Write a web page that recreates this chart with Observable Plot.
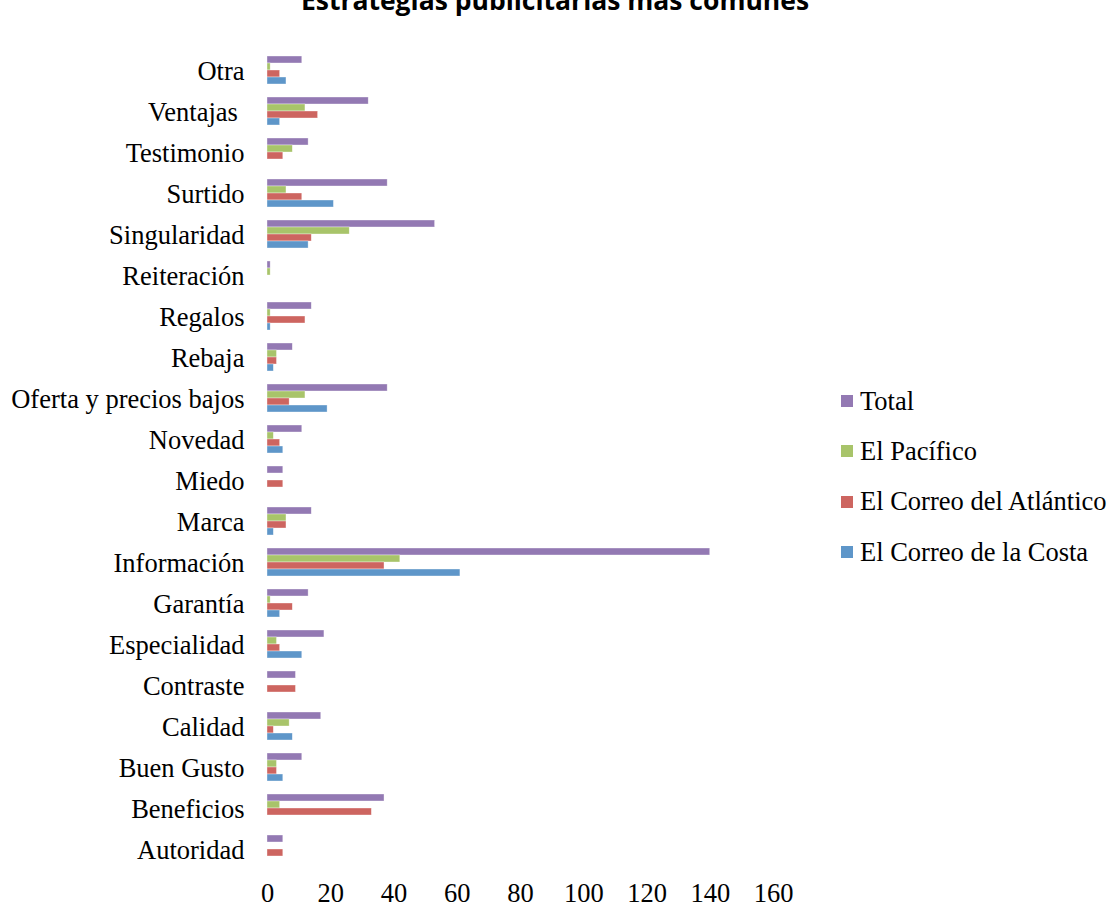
<!DOCTYPE html>
<html>
<head>
<meta charset="utf-8">
<script src="https://cdn.jsdelivr.net/npm/d3@7"></script>
<script src="https://cdn.jsdelivr.net/npm/@observablehq/plot@0.6"></script>
<style>
  html, body { margin: 0; padding: 0; background: #fff; overflow: hidden; }
  #wrap { position: relative; width: 1110px; height: 911px; }
  #title { position: absolute; left: 0; width: 1110px; top: -13px; text-align: center; line-height: 1;
    font-family: "Open Sans", sans-serif; font-weight: bold; font-size: 26.5px; color: #000; white-space: nowrap; }
  #chart { position: absolute; left: 0; top: 0; }
  #legend { position: absolute; left: 841px; top: 376px; font-family: "Liberation Serif", serif; font-size: 26.5px; color: #000; }
  .row { height: 50.3px; display: flex; align-items: center; white-space: nowrap; }
  .sw { width: 12px; height: 12px; margin-right: 7px; }
</style>
</head>
<body>
<div id="wrap">
  <div id="title">Estrategias publicitarias más comunes</div>
  <div id="chart"></div>
  <div id="legend"></div>
</div>
<script>
// Categories, bottom to top as in the source chart
const categories = ["Autoridad", "Beneficios", "Buen Gusto", "Calidad", "Contraste", "Especialidad",
  "Garantía", "Información", "Marca", "Miedo", "Novedad", "Oferta y precios bajos", "Rebaja",
  "Regalos", "Reiteración", "Singularidad", "Surtido", "Testimonio", "Ventajas\u00a0", "Otra"];
const series = ["Total", "El Pacífico", "El Correo del Atlántico", "El Correo de la Costa"];
const total     = [5, 37, 11, 17, 9, 18, 13, 140, 14, 5, 11, 38, 8, 14, 1, 53, 38, 13, 32, 11];
const pacifico  = [0, 4, 3, 7, 0, 3, 1, 42, 6, 0, 2, 12, 3, 1, 1, 26, 6, 8, 12, 1];
const atlantico = [5, 33, 3, 2, 9, 4, 8, 37, 6, 5, 4, 7, 3, 12, 0, 14, 11, 5, 16, 4];
const costa     = [0, 0, 5, 8, 0, 11, 4, 61, 2, 0, 5, 19, 2, 1, 0, 13, 21, 0, 4, 6];
const xTicks = [0, 20, 40, 60, 80, 100, 120, 140, 160];
const colors = ["#9379b3", "#a8c46a", "#cd6560", "#5e96c9"];

const valuesBySeries = [total, pacifico, atlantico, costa];
const data = [];
categories.forEach((c, i) => {
  series.forEach((s, j) => {
    data.push({category: c, series: s, value: valuesBySeries[j][i]});
  });
});

const chart = Plot.plot({
  width: 1110,
  height: 911,
  marginLeft: 267,
  marginRight: 337,
  marginTop: 48,
  marginBottom: 41,
  style: {fontFamily: "'Liberation Serif', serif", color: "#000", background: "transparent"},
  x: {domain: [0, 160], ticks: xTicks, axis: null},
  y: {domain: series, axis: null, padding: 0},
  fy: {domain: categories.slice().reverse(), padding: 0.32, axis: null},
  color: {domain: series, range: colors},
  marks: [
    Plot.barX(data, {fy: "category", y: "series", x: "value", fill: "series",
      stroke: "white", strokeWidth: 0.6, strokeOpacity: 0.6}),
    Plot.axisFy({anchor: "left", tickSize: 0, tickPadding: 23, fontSize: 26.5, label: null, fill: "#000", dy: 1}),
    Plot.axisX({anchor: "bottom", ticks: xTicks, tickSize: 0, tickPadding: 20, fontSize: 26.5, label: null, fill: "#000"})
  ]
});
document.getElementById("chart").appendChild(chart);

const legend = document.getElementById("legend");
series.forEach((s, j) => {
  const row = document.createElement("div");
  row.className = "row";
  const sw = document.createElement("div");
  sw.className = "sw";
  sw.style.background = colors[j];
  const t = document.createElement("span");
  t.textContent = s;
  row.appendChild(sw);
  row.appendChild(t);
  legend.appendChild(row);
});
</script>
</body>
</html>
